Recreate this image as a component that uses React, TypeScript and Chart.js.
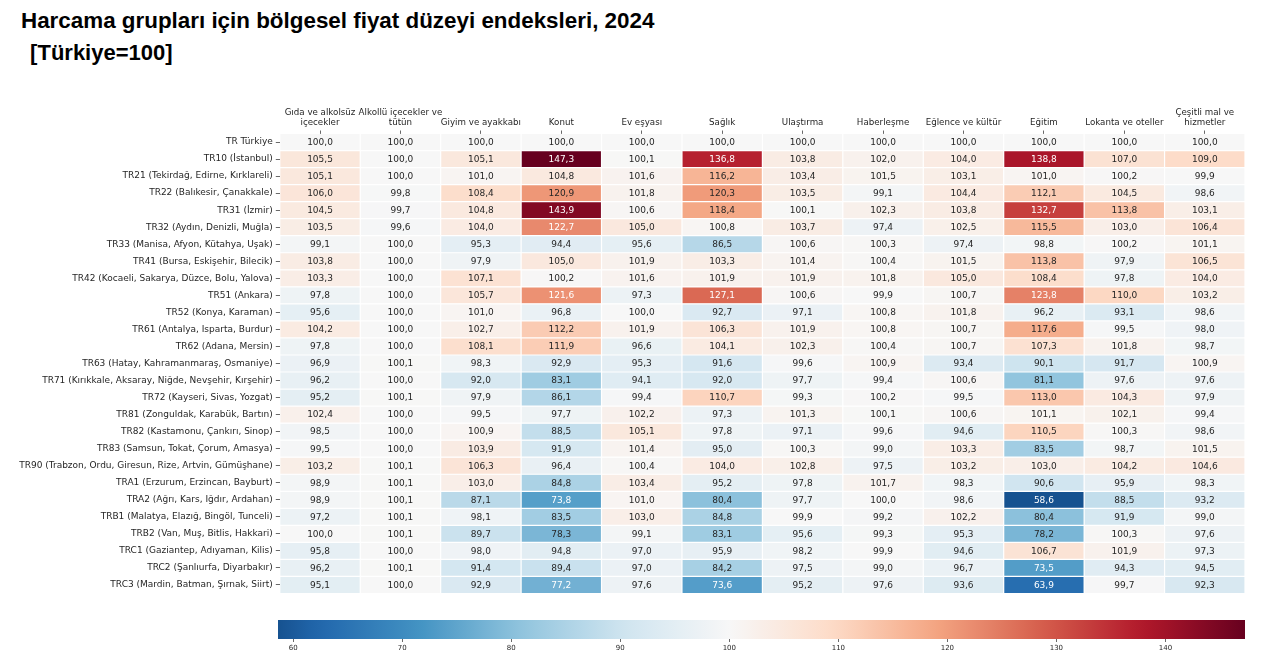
import React, { useEffect, useRef } from "react";
import { Chart, registerables } from "chart.js";

Chart.register(...registerables);

// ---------------- DATA ----------------
const regions = [
  "TR Türkiye",
  "TR10 (İstanbul)",
  "TR21 (Tekirdağ, Edirne, Kırklareli)",
  "TR22 (Balıkesir, Çanakkale)",
  "TR31 (İzmir)",
  "TR32 (Aydın, Denizli, Muğla)",
  "TR33 (Manisa, Afyon, Kütahya, Uşak)",
  "TR41 (Bursa, Eskişehir, Bilecik)",
  "TR42 (Kocaeli, Sakarya, Düzce, Bolu, Yalova)",
  "TR51 (Ankara)",
  "TR52 (Konya, Karaman)",
  "TR61 (Antalya, Isparta, Burdur)",
  "TR62 (Adana, Mersin)",
  "TR63 (Hatay, Kahramanmaraş, Osmaniye)",
  "TR71 (Kırıkkale, Aksaray, Niğde, Nevşehir, Kırşehir)",
  "TR72 (Kayseri, Sivas, Yozgat)",
  "TR81 (Zonguldak, Karabük, Bartın)",
  "TR82 (Kastamonu, Çankırı, Sinop)",
  "TR83 (Samsun, Tokat, Çorum, Amasya)",
  "TR90 (Trabzon, Ordu, Giresun, Rize, Artvin, Gümüşhane)",
  "TRA1 (Erzurum, Erzincan, Bayburt)",
  "TRA2 (Ağrı, Kars, Iğdır, Ardahan)",
  "TRB1 (Malatya, Elazığ, Bingöl, Tunceli)",
  "TRB2 (Van, Muş, Bitlis, Hakkari)",
  "TRC1 (Gaziantep, Adıyaman, Kilis)",
  "TRC2 (Şanlıurfa, Diyarbakır)",
  "TRC3 (Mardin, Batman, Şırnak, Siirt)",
];

// column headers ("\n" marks the line break used in the axis label)
const groups = [
  "Gıda ve alkolsüz\niçecekler",
  "Alkollü içecekler ve\ntütün",
  "Giyim ve ayakkabı",
  "Konut",
  "Ev eşyası",
  "Sağlık",
  "Ulaştırma",
  "Haberleşme",
  "Eğlence ve kültür",
  "Eğitim",
  "Lokanta ve oteller",
  "Çeşitli mal ve\nhizmetler",
];

const gida = [100.0, 105.5, 105.1, 106.0, 104.5, 103.5, 99.1, 103.8, 103.3, 97.8, 95.6, 104.2, 97.8, 96.9, 96.2, 95.2, 102.4, 98.5, 99.5, 103.2, 98.9, 98.9, 97.2, 100.0, 95.8, 96.2, 95.1];
const alkol = [100.0, 100.0, 100.0, 99.8, 99.7, 99.6, 100.0, 100.0, 100.0, 100.0, 100.0, 100.0, 100.0, 100.1, 100.0, 100.1, 100.0, 100.0, 100.0, 100.1, 100.1, 100.1, 100.1, 100.1, 100.0, 100.1, 100.0];
const giyim = [100.0, 105.1, 101.0, 108.4, 104.8, 104.0, 95.3, 97.9, 107.1, 105.7, 101.0, 102.7, 108.1, 98.3, 92.0, 97.9, 99.5, 100.9, 103.9, 106.3, 103.0, 87.1, 98.1, 89.7, 98.0, 91.4, 92.9];
const konut = [100.0, 147.3, 104.8, 120.9, 143.9, 122.7, 94.4, 105.0, 100.2, 121.6, 96.8, 112.2, 111.9, 92.9, 83.1, 86.1, 97.7, 88.5, 91.9, 96.4, 84.8, 73.8, 83.5, 78.3, 94.8, 89.4, 77.2];
const evEsyasi = [100.0, 100.1, 101.6, 101.8, 100.6, 105.0, 95.6, 101.9, 101.6, 97.3, 100.0, 101.9, 96.6, 95.3, 94.1, 99.4, 102.2, 105.1, 101.4, 100.4, 103.4, 101.0, 103.0, 99.1, 97.0, 97.0, 97.6];
const saglik = [100.0, 136.8, 116.2, 120.3, 118.4, 100.8, 86.5, 103.3, 101.9, 127.1, 92.7, 106.3, 104.1, 91.6, 92.0, 110.7, 97.3, 97.8, 95.0, 104.0, 95.2, 80.4, 84.8, 83.1, 95.9, 84.2, 73.6];
const ulastirma = [100.0, 103.8, 103.4, 103.5, 100.1, 103.7, 100.6, 101.4, 101.9, 100.6, 97.1, 101.9, 102.3, 99.6, 97.7, 99.3, 101.3, 97.1, 100.3, 102.8, 97.8, 97.7, 99.9, 95.6, 98.2, 97.5, 95.2];
const haberlesme = [100.0, 102.0, 101.5, 99.1, 102.3, 97.4, 100.3, 100.4, 101.8, 99.9, 100.8, 100.8, 100.4, 100.9, 99.4, 100.2, 100.1, 99.6, 99.0, 97.5, 101.7, 100.0, 99.2, 99.3, 99.9, 99.0, 97.6];
const eglence = [100.0, 104.0, 103.1, 104.4, 103.8, 102.5, 97.4, 101.5, 105.0, 100.7, 101.8, 100.7, 100.7, 93.4, 100.6, 99.5, 100.6, 94.6, 103.3, 103.2, 98.3, 98.6, 102.2, 95.3, 94.6, 96.7, 93.6];
const egitim = [100.0, 138.8, 101.0, 112.1, 132.7, 115.5, 98.8, 113.8, 108.4, 123.8, 96.2, 117.6, 107.3, 90.1, 81.1, 113.0, 101.1, 110.5, 83.5, 103.0, 90.6, 58.6, 80.4, 78.2, 106.7, 73.5, 63.9];
const lokanta = [100.0, 107.0, 100.2, 104.5, 113.8, 103.0, 100.2, 97.9, 97.8, 110.0, 93.1, 99.5, 101.8, 91.7, 97.6, 104.3, 102.1, 100.3, 98.7, 104.2, 95.9, 88.5, 91.9, 100.3, 101.9, 94.3, 99.7];
const cesitli = [100.0, 109.0, 99.9, 98.6, 103.1, 106.4, 101.1, 106.5, 104.0, 103.2, 98.6, 98.0, 98.7, 100.9, 97.6, 97.9, 99.4, 98.6, 101.5, 104.6, 98.3, 93.2, 99.0, 97.6, 97.3, 94.5, 92.3];

const columns = [gida, alkol, giyim, konut, evEsyasi, saglik, ulastirma, haberlesme, eglence, egitim, lokanta, cesitli];

const colorbarTicks = [60, 70, 80, 90, 100, 110, 120, 130, 140];
const centerValue = 100;

// ---------------- COLOR MAP (RdBu_r) ----------------
const RDBU_R: number[][] = [
  [5, 48, 97],
  [33, 102, 172],
  [67, 147, 195],
  [146, 197, 222],
  [209, 229, 240],
  [247, 247, 247],
  [253, 219, 199],
  [244, 165, 130],
  [214, 96, 77],
  [178, 24, 43],
  [103, 0, 31],
];

function cmapRGB(t: number): number[] {
  const tt = Math.max(0, Math.min(1, t));
  const pos = tt * (RDBU_R.length - 1);
  const i = Math.min(RDBU_R.length - 2, Math.floor(pos));
  const f = pos - i;
  const a = RDBU_R[i];
  const b = RDBU_R[i + 1];
  return [0, 1, 2].map((k) => a[k] + (b[k] - a[k]) * f);
}

const allValues = columns.flat();
const vmin = Math.min(...allValues);
const vmax = Math.max(...allValues);
const vrange = Math.max(vmax - centerValue, centerValue - vmin);

function rgbFor(v: number): number[] {
  return cmapRGB(0.5 + (v - centerValue) / (2 * vrange));
}
function colorFor(v: number): string {
  const [r, g, b] = rgbFor(v);
  return `rgb(${Math.round(r)},${Math.round(g)},${Math.round(b)})`;
}
function textColorFor(v: number): string {
  const lin = rgbFor(v).map((c) => {
    const s = c / 255;
    return s <= 0.03928 ? s / 12.92 : Math.pow((s + 0.055) / 1.055, 2.4);
  });
  const lum = 0.2126 * lin[0] + 0.7152 * lin[1] + 0.0722 * lin[2];
  return lum > 0.408 ? "#262626" : "#ffffff";
}
function formatValue(v: number): string {
  return v.toFixed(1).replace(".", ",");
}

const FONT = "DejaVu Sans";
const TEXT = "#262626";

const cellLabels = {
  id: "cellLabels",
  afterDatasetsDraw(chart: any) {
    const c = chart.ctx;
    c.save();
    c.font = `9px "${FONT}"`;
    c.textAlign = "center";
    c.textBaseline = "middle";
    chart.data.datasets.forEach((_ds: any, j: number) => {
      const meta = chart.getDatasetMeta(j);
      meta.data.forEach((el: any, i: number) => {
        const v = columns[j][i];
        const p = el.getCenterPoint();
        c.fillStyle = textColorFor(v);
        c.fillText(formatValue(v), p.x, p.y + 0.5);
      });
    });
    c.restore();
  },
};

export default function App() {
  const heatRef = useRef<HTMLCanvasElement | null>(null);
  const barRef = useRef<HTMLCanvasElement | null>(null);

  useEffect(() => {
    document.body.style.margin = "0";
    const heat = new Chart(heatRef.current as HTMLCanvasElement, {
      type: "bar",
      data: {
        labels: regions,
        datasets: columns.map((vals, j) => ({
          label: groups[j],
          data: vals.map(() => [j, j + 1]),
          backgroundColor: vals.map(colorFor),
          borderColor: "#ffffff",
          borderWidth: 0.6,
          borderSkipped: false,
          barPercentage: 1,
          categoryPercentage: 1,
          grouped: false,
          inflateAmount: 0,
        })) as any,
      },
      options: {
        indexAxis: "y",
        animation: false,
        responsive: false,
        maintainAspectRatio: false,
        layout: { padding: { left: 0, right: 35, top: 0, bottom: 16.5 } },
        plugins: {
          legend: { display: false },
          tooltip: { enabled: false },
          title: { display: false },
        },
        scales: {
          x: {
            type: "linear",
            position: "top",
            min: 0,
            max: groups.length,
            afterBuildTicks: (s: any) => {
              s.ticks = groups.map((_g, i) => ({ value: i + 0.5 }));
            },
            afterFit: (s: any) => {
              s.height = 43.5;
            },
            grid: {
              drawOnChartArea: false,
              drawTicks: true,
              tickLength: 3,
              tickColor: "#444",
              tickWidth: 0.8,
            },
            border: { display: false },
            ticks: {
              autoSkip: false,
              maxRotation: 0,
              minRotation: 0,
              padding: 2,
              color: TEXT,
              font: { family: FONT, size: 8.7, lineHeight: 1.22 },
              callback: (_v: any, i: number) => groups[i].split("\n"),
            },
          },
          y: {
            type: "category",
            afterFit: (s: any) => {
              s.width = 279.8;
            },
            grid: {
              offset: false,
              drawOnChartArea: false,
              drawTicks: true,
              tickLength: 4,
              tickColor: "#444",
              tickWidth: 0.8,
            },
            border: { display: false },
            ticks: {
              autoSkip: false,
              padding: 3,
              color: TEXT,
              font: { family: FONT, size: 9 },
            },
          },
        },
      } as any,
      plugins: [cellLabels],
    });

    const cbar = new Chart(barRef.current as HTMLCanvasElement, {
      type: "bar",
      data: {
        labels: ["colorbar"],
        datasets: [
          {
            data: [[vmin, vmax]],
            backgroundColor: (ctx: any) => {
              const chart = ctx.chart;
              const xs = chart.scales && chart.scales.x;
              if (!chart.chartArea || !xs) return colorFor(centerValue);
              const x0 = xs.getPixelForValue(vmin);
              const x1 = xs.getPixelForValue(vmax);
              const g = chart.ctx.createLinearGradient(x0, 0, x1, 0);
              const n = 60;
              for (let k = 0; k <= n; k++) {
                g.addColorStop(k / n, colorFor(vmin + ((vmax - vmin) * k) / n));
              }
              return g;
            },
            borderWidth: 0,
            barPercentage: 1,
            categoryPercentage: 1,
            inflateAmount: 0,
          },
        ] as any,
      },
      options: {
        indexAxis: "y",
        animation: false,
        responsive: false,
        maintainAspectRatio: false,
        layout: { padding: { left: 278, right: 35, top: 20, bottom: 6 } },
        plugins: {
          legend: { display: false },
          tooltip: { enabled: false },
        },
        scales: {
          y: { display: false },
          x: {
            type: "linear",
            min: vmin,
            max: vmax,
            afterBuildTicks: (s: any) => {
              s.ticks = colorbarTicks.map((v) => ({ value: v }));
            },
            afterFit: (s: any) => {
              s.height = 25;
            },
            grid: {
              drawOnChartArea: false,
              drawTicks: true,
              tickLength: 3,
              tickColor: "#444",
              tickWidth: 0.8,
            },
            border: { display: false },
            ticks: {
              autoSkip: false,
              maxRotation: 0,
              padding: 2,
              color: TEXT,
              font: { family: FONT, size: 7 },
            },
          },
        },
      } as any,
    });

    return () => {
      heat.destroy();
      cbar.destroy();
    };
  }, []);

  const titleStyle: React.CSSProperties = {
    position: "absolute",
    left: 21,
    margin: 0,
    fontFamily: '"Liberation Sans", Arial, sans-serif',
    fontWeight: "bold",
    fontSize: 22.4,
    lineHeight: "22px",
    color: "#000",
    whiteSpace: "pre",
  };

  return (
    <div style={{ position: "relative", width: 1280, height: 670, background: "#fff", overflow: "hidden" }}>
      <div style={{ ...titleStyle, top: 10 }}>Harcama grupları için bölgesel fiyat düzeyi endeksleri, 2024</div>
      <div style={{ ...titleStyle, top: 42, left: 24, fontSize: 22 }}> [Türkiye=100]</div>
      <canvas
        ref={heatRef}
        width={1280}
        height={520}
        style={{ position: "absolute", left: 0, top: 90, width: 1280, height: 520 }}
      />
      <canvas
        ref={barRef}
        width={1280}
        height={70}
        style={{ position: "absolute", left: 0, top: 600, width: 1280, height: 70 }}
      />
    </div>
  );
}
